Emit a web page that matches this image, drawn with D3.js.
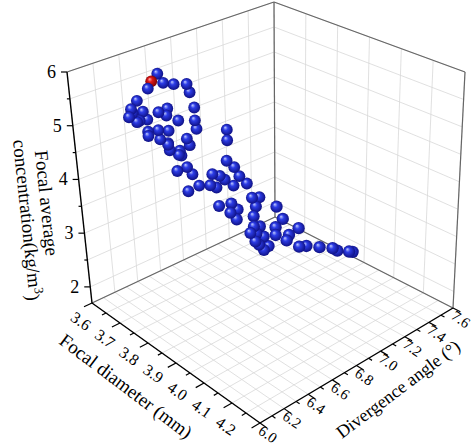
<!DOCTYPE html>
<html><head><meta charset="utf-8">
<script src="https://cdn.jsdelivr.net/npm/d3@7"></script>
<style>body{margin:0;background:#fff}</style>
</head><body><div id="content"></div>
<script>
// data: focal diameter (mm), divergence angle (deg), focal average concentration
var diameter = [3.69,3.69,3.69,3.69,3.69,3.69,3.69,3.69,3.69,3.69,3.69,3.69,3.69,3.69,3.69,3.69,3.69,3.69,3.69,3.69,
  3.69,3.69,3.69,3.69,3.69,3.69,3.69,3.69,3.69,3.69,3.69,3.69,3.69,3.69,3.69,3.69,3.69,
  3.69,3.69,3.69,3.69,3.69,3.69,3.69,3.69,3.69,3.69,3.69,3.69,3.69,3.69,3.69,
  3.78,3.78,3.78,3.78,3.78,3.78,3.78,3.78,3.78,3.78,3.78,3.78,3.78,3.78,3.78,3.78,3.78,3.78,
  3.87,3.87,3.87,3.87,3.87,3.87,3.87,
  3.90,3.90,3.90,3.90,3.90,3.90,3.90];
var angle = [6.47,6.42,6.51,6.59,6.69,6.71,6.39,6.30,6.74,6.25,6.23,6.34,6.29,6.37,6.46,6.53,6.52,6.61,6.74,6.75,
  6.37,6.45,6.53,6.37,6.46,6.52,6.67,6.69,6.53,6.61,6.62,6.99,6.99,6.26,6.31,6.52,6.60,
  6.58,6.66,6.70,6.66,6.75,6.84,6.89,6.86,6.92,6.96,6.98,7.04,7.08,7.03,7.14,
  6.96,7.02,6.99,6.69,6.79,6.78,6.84,6.83,6.97,6.97,7.02,6.94,7.05,6.98,7.01,7.05,6.99,7.09,
  6.94,6.99,6.93,6.93,7.04,7.02,7.12,
  7.05,7.11,7.22,7.33,7.37,7.47,7.50];
var concentration = [5.76,5.66,5.56,5.47,5.39,5.22,5.55,5.40,4.91,5.29,5.16,5.17,5.02,5.00,5.06,5.07,4.95,4.78,4.67,4.50,
  4.78,4.74,4.66,4.70,4.56,4.41,4.39,4.25,4.30,4.22,4.12,4.27,4.07,5.21,5.03,4.44,4.15,
  3.87,3.87,3.70,3.42,3.44,3.36,3.27,3.55,3.46,3.35,3.69,3.51,3.30,3.17,3.10,
  3.26,3.21,3.07,3.37,3.32,3.16,3.16,2.99,2.91,2.72,2.67,2.63,2.45,2.43,2.34,2.20,2.57,2.23,
  3.36,3.09,3.00,2.86,2.75,2.67,2.79,
  2.61,2.56,2.42,2.28,2.19,2.06,2.02];
var bestIndex = 1;

var diaTicks = [3.6,3.7,3.8,3.9,4.0,4.1,4.2];
var angTicks = [6.0,6.2,6.4,6.6,6.8,7.0,7.2,7.4,7.6];
var concTicks = [2,3,4,5,6];

var W = 474, H = 445;
var svg = d3.select("#content").append("svg").attr("width", W).attr("height", H);

var su = d3.scaleLinear().domain([3.6, 4.2]).range([0, 1]);
var sv = d3.scaleLinear().domain([6.0, 7.6]).range([0, 1]);
var sw = d3.scaleLinear().domain([1.7, 6.0]).range([0, 1]);

// screen positions of the 8 box corners [u][v][w]
var C = {
  "000": [92,303], "100": [260,423], "110": [453,308], "010": [275,217],
  "001": [67,72],  "101": [258,130], "111": [465,72],  "011": [274,2]
};
function proj(d, a, z) {
  var u = su(d), v = sv(a), w = sw(z), p = [0, 0];
  for (var i = 0; i < 2; i++) for (var j = 0; j < 2; j++) for (var k = 0; k < 2; k++) {
    var f = (i ? u : 1-u) * (j ? v : 1-v) * (k ? w : 1-w);
    var c = C["" + i + j + k];
    p[0] += f * c[0]; p[1] += f * c[1];
  }
  return p;
}
function line(p, q, col, wd) {
  svg.append("line").attr("x1", p[0]).attr("y1", p[1]).attr("x2", q[0]).attr("y2", q[1])
    .attr("stroke", col).attr("stroke-width", wd);
}

var grid = "#d8d8d8", zMin = 1.7, zMax = 6;
var zGrid = d3.range(2, 6.01, 0.5);
// left wall (diameter = 3.6)
d3.range(6.0, 7.61, 0.2).forEach(function(a){ line(proj(3.6,a,zMin), proj(3.6,a,zMax), grid, 0.8); });
zGrid.forEach(function(z){ line(proj(3.6,6.0,z), proj(3.6,7.6,z), grid, 0.8); });
// right wall (angle = 7.6)
d3.range(3.6, 4.201, 0.1).forEach(function(d){ line(proj(d,7.6,zMin), proj(d,7.6,zMax), grid, 0.8); });
zGrid.forEach(function(z){ line(proj(3.6,7.6,z), proj(4.2,7.6,z), grid, 0.8); });
// floor
d3.range(3.6, 4.201, 0.05).forEach(function(d){ line(proj(d,6.0,zMin), proj(d,7.6,zMin), grid, 0.8); });
d3.range(6.0, 7.61, 0.1).forEach(function(a){ line(proj(3.6,a,zMin), proj(4.2,a,zMin), grid, 0.8); });

// box edges
var edge = "#666";
line(proj(3.6,7.6,zMin), proj(3.6,7.6,zMax), edge, 1.2);
line(proj(4.2,7.6,zMin), proj(4.2,7.6,zMax), edge, 1.2);
line(proj(3.6,6.0,zMax), proj(3.6,7.6,zMax), edge, 1.2);
line(proj(3.6,7.6,zMax), proj(4.2,7.6,zMax), edge, 1.2);
line(proj(3.6,6.0,zMin), proj(3.6,7.6,zMin), edge, 1.2);
line(proj(3.6,7.6,zMin), proj(4.2,7.6,zMin), edge, 1.2);

// axes
var font = "'Liberation Serif','Times New Roman',serif";
line(proj(3.6,6.0,zMin), proj(3.6,6.0,zMax), "#000", 1.4);
line(proj(3.6,6.0,zMin), proj(4.2,6.0,zMin), "#000", 1.4);
line(proj(4.2,6.0,zMin), proj(4.2,7.6,zMin), "#000", 1.4);

d3.range(2, 6.01, 0.5).forEach(function(z){
  var p = proj(3.6,6.0,z), major = Math.abs(z - Math.round(z)) < 1e-6;
  line(p, [p[0] - (major ? 6 : 3), p[1]], "#000", 1.2);
});
concTicks.forEach(function(z){
  var p = proj(3.6,6.0,z);
  svg.append("text").attr("x", p[0] - 11).attr("y", p[1] + 6).attr("text-anchor", "end")
    .attr("font-family", font).attr("font-size", 18).text(z);
});

d3.range(3.6, 4.201, 0.05).forEach(function(d, i){
  var p = proj(d,6.0,zMin), q = proj(d,6.0 - (i % 2 ? 0.035 : 0.07),zMin);
  line(p, q, "#000", 1.2);
});
var offD = d3.interpolate([-11,18], [-34,3]);
diaTicks.forEach(function(d, i){
  var p = proj(d,6.0,zMin), o = offD(i / (diaTicks.length - 1));
  svg.append("text").attr("transform", "translate(" + (p[0]+o[0]) + "," + (p[1]+o[1]) + ") rotate(35)")
    .attr("text-anchor", "middle").attr("dy", "0.35em")
    .attr("font-family", font).attr("font-size", 16).text(d.toFixed(1));
});
d3.range(6.0, 7.61, 0.1).forEach(function(a, i){
  var p = proj(4.2,a,zMin), q = proj(4.2 + (i % 2 ? 0.012 : 0.025),a,zMin);
  line(p, q, "#000", 1.2);
});
angTicks.forEach(function(a){
  var p = proj(4.2,a,zMin);
  svg.append("text").attr("transform", "translate(" + (p[0]+8) + "," + (p[1]+11) + ") rotate(35)")
    .attr("text-anchor", "middle").attr("dy", "0.35em")
    .attr("font-family", font).attr("font-size", 15).text(a.toFixed(1));
});

// axis titles
svg.append("text").attr("transform", "translate(126,386) rotate(37)").attr("text-anchor", "middle")
  .attr("dy", "0.35em").attr("font-family", font).attr("font-size", 19).text("Focal diameter (mm)");
svg.append("text").attr("transform", "translate(398,389) rotate(-37)").attr("text-anchor", "middle")
  .attr("dy", "0.35em").attr("font-family", font).attr("font-size", 18).text("Divergence angle (°)");
svg.append("text").attr("transform", "translate(47,203) rotate(84)").attr("text-anchor", "middle")
  .attr("dy", "0.35em").attr("font-family", font).attr("font-size", 19).text("Focal average");
var t = svg.append("text").attr("transform", "translate(28,220) rotate(84)").attr("text-anchor", "middle")
  .attr("dy", "0.35em").attr("font-family", font).attr("font-size", 19);
t.append("tspan").text("concentration(kg/m");
t.append("tspan").attr("dy", "-0.45em").attr("font-size", 13).text("3");
t.append("tspan").attr("dy", "0.45em").text(")");

// sphere gradients
var defs = svg.append("defs");
function grad(id, c0, c1, c2) {
  var g = defs.append("radialGradient").attr("id", id).attr("cx", "50%").attr("cy", "50%").attr("r", "55%")
    .attr("fx", "35%").attr("fy", "30%");
  g.append("stop").attr("offset", "0%").attr("stop-color", c0);
  g.append("stop").attr("offset", "35%").attr("stop-color", c1);
  g.append("stop").attr("offset", "100%").attr("stop-color", c2);
}
grad("blueBall", "#c4ceff", "#2c3ce6", "#0b0b78");
grad("redBall", "#ffb0b0", "#e01818", "#700000");

var pts = diameter.map(function(d, i){
  return {d: d, a: angle[i], z: concentration[i], best: i === bestIndex};
});
pts.sort(function(p, q){ return (su(p.d) - sv(p.a)) - (su(q.d) - sv(q.a)) || q.z - p.z; });
svg.append("g").selectAll("circle").data(pts).join("circle")
  .attr("cx", function(p){ return proj(p.d, p.a, p.z)[0]; })
  .attr("cy", function(p){ return proj(p.d, p.a, p.z)[1]; })
  .attr("r", function(p){ return 5.8 + su(p.d) * 0.8; })
  .attr("fill", function(p){ return p.best ? "url(#redBall)" : "url(#blueBall)"; });
</script>
</body></html>
